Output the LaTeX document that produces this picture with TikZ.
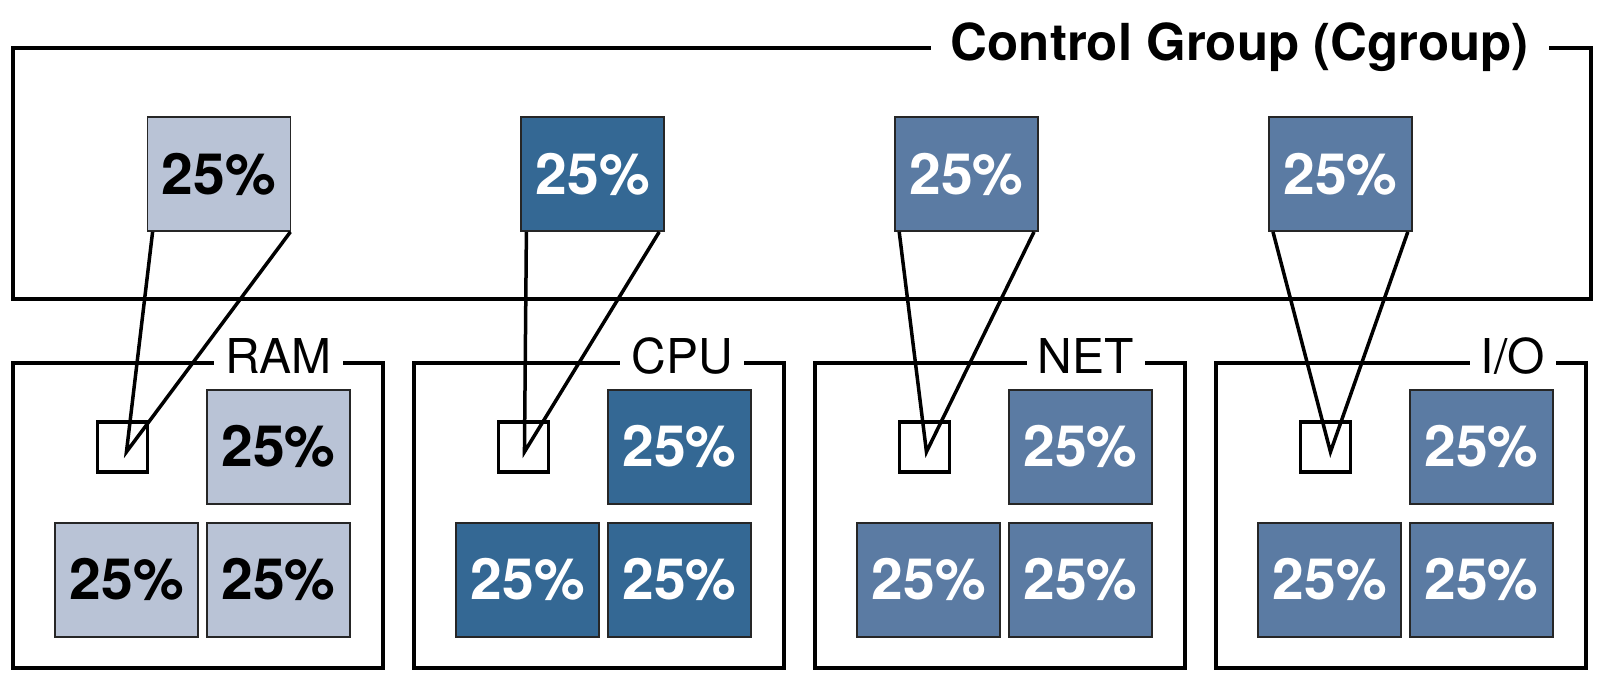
\documentclass[tikz,border=0pt]{standalone}
\usepackage{fontspec}
\setmainfont{TeX Gyre Heros}
\usetikzlibrary{positioning, calc}

\definecolor{ramfill}{RGB}{185,195,214}
\definecolor{cpufill}{RGB}{52,104,148}
\definecolor{netfill}{RGB}{91,123,163}

\tikzset{
  share/.style={rectangle, draw=black!85, line width=1.8pt, minimum width=143pt, minimum height=114pt, inner sep=0pt, font=\bfseries\fontsize{57}{57}\selectfont},
  ramshare/.style={share, fill=ramfill, text=black},
  cpushare/.style={share, fill=cpufill, text=white},
  netshare/.style={share, fill=netfill, text=white},
  slot/.style={rectangle, draw, line width=3.5pt, minimum size=50pt, inner sep=0pt},
  group/.style={rectangle, draw, line width=4pt, minimum width=370pt, minimum height=305pt},
  grouplabel/.style={fill=white, inner xsep=11pt, inner ysep=2pt, font=\fontsize{48}{48}\selectfont},
  link/.style={line width=3.5pt},
}

\begin{document}
\begin{tikzpicture}
	\useasboundingbox (0,0) rectangle (1608pt,674pt);
	
	% control group
	\node[group, minimum width=1578pt, minimum height=251pt] (cgroup) at (802pt,500.5pt) {};
	\node[fill=white, inner xsep=20pt, inner ysep=4pt, font=\bfseries\fontsize{51}{51}\selectfont, below left=15pt and 44pt of cgroup.north east, anchor=base east] (title) {Control Group (Cgroup)};
	
	\node[ramshare] (ramtop) at (219pt,500pt) {25\%};
	\node[cpushare, right=229pt of ramtop] (cputop) {25\%};
	\node[netshare, right=229pt of cputop] (nettop) {25\%};
	\node[netshare, right=229pt of nettop] (iotop) {25\%};
	
	% resources
	\node[group] (ram) at (198pt,158.5pt) {};
	\node[group, right=27pt of ram] (cpu) {};
	\node[group, right=27pt of cpu] (net) {};
	\node[group, right=27pt of net] (io) {};
	
	\node[grouplabel, below left=13pt and 42pt of ram.north east, anchor=base east] (ramlabel) {RAM};
	\node[grouplabel, below left=13pt and 42pt of cpu.north east, anchor=base east] (cpulabel) {CPU};
	\node[grouplabel, below left=13pt and 42pt of net.north east, anchor=base east] (netlabel) {NET};
	\node[grouplabel, below left=13pt and 32pt of io.north east, anchor=base east] (iolabel) {I/O};
	
	\node[ramshare, below left=28pt and 34pt of ram.north east] (ram1) {25\%};
	\node[ramshare, below=17pt of ram1] (ram3) {25\%};
	\node[ramshare, left=7pt of ram3] (ram2) {25\%};
	\node[slot, left=57pt of ram1] (ramslot) {};
	
	\node[cpushare, below left=28pt and 34pt of cpu.north east] (cpu1) {25\%};
	\node[cpushare, below=17pt of cpu1] (cpu3) {25\%};
	\node[cpushare, left=7pt of cpu3] (cpu2) {25\%};
	\node[slot, left=57pt of cpu1] (cpuslot) {};
	
	\node[netshare, below left=28pt and 34pt of net.north east] (net1) {25\%};
	\node[netshare, below=17pt of net1] (net3) {25\%};
	\node[netshare, left=7pt of net3] (net2) {25\%};
	\node[slot, left=57pt of net1] (netslot) {};
	
	\node[netshare, below left=28pt and 34pt of io.north east] (io1) {25\%};
	\node[netshare, below=17pt of io1] (io3) {25\%};
	\node[netshare, left=7pt of io3] (io2) {25\%};
	\node[slot, left=57pt of io1] (ioslot) {};
	
	\coordinate (ramtip) at ([shift={(4pt,-5pt)}]ramslot.center);
	\coordinate (cputip) at ([shift={(1pt,-5pt)}]cpuslot.center);
	\coordinate (nettip) at ([shift={(2pt,-5pt)}]netslot.center);
	\coordinate (iotip) at ([shift={(5pt,-5pt)}]ioslot.center);
	
	\draw[link] ([xshift=6pt]ramtop.south west) -- (ramtip) -- ([xshift=-1pt]ramtop.south east);
	\draw[link] ([xshift=6pt]cputop.south west) -- (cputip) -- ([xshift=-6pt]cputop.south east);
	\draw[link] ([xshift=5pt]nettop.south west) -- (nettip) -- ([xshift=-5pt]nettop.south east);
	\draw[link] ([xshift=5pt]iotop.south west) -- (iotip) -- ([xshift=-5pt]iotop.south east);
\end{tikzpicture}
\end{document}
